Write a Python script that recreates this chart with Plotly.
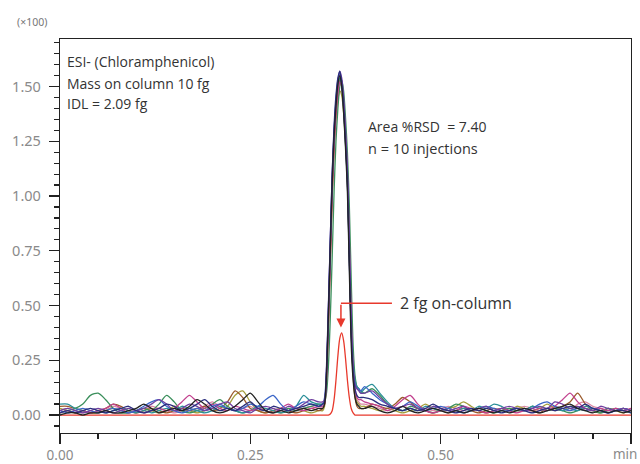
import plotly.graph_objects as go

# ---------------- data (signal in units of x100 counts) ----------------
X_LEFT = [0.00, 0.01, 0.02, 0.03, 0.04, 0.05, 0.06, 0.07, 0.08, 0.09,
          0.10, 0.11, 0.12, 0.13, 0.14, 0.15, 0.16, 0.17, 0.18, 0.19,
          0.20, 0.21, 0.22, 0.23, 0.24, 0.25, 0.26, 0.27, 0.28, 0.29,
          0.30, 0.31, 0.32, 0.33, 0.34]
X_PEAK = [0.345, 0.3475, 0.35, 0.3525, 0.355, 0.3575, 0.36, 0.3625, 0.365, 0.3675,
          0.37, 0.3725, 0.375, 0.3775, 0.38, 0.3825, 0.385, 0.3875, 0.39, 0.3925, 0.395]
X_RIGHT = [0.40, 0.41, 0.42, 0.43, 0.44, 0.45, 0.46, 0.47, 0.48, 0.49,
           0.50, 0.51, 0.52, 0.53, 0.54, 0.55, 0.56, 0.57, 0.58, 0.59,
           0.60, 0.61, 0.62, 0.63, 0.64, 0.65, 0.66, 0.67, 0.68, 0.69,
           0.70, 0.71, 0.72, 0.73, 0.74, 0.75]
TIME_MIN = X_LEFT + X_PEAK + X_RIGHT

green_l = [0.01,0.02,0.03,0.05,0.09,0.10,0.07,0.03,0.01,0.01, 0.02,0.03,0.02,0.05,0.09,0.06,0.02,0.01,0.02,0.03,
           0.05,0.07,0.04,0.02,0.01,0.02,0.03,0.02,0.01,0.02, 0.03,0.02,0.03,0.04,0.05]
green_p = [0.05,0.06,0.10,0.22,0.44,0.72,1.02,1.25,1.40,1.50,1.53,1.48,1.36,1.20,0.96,0.62,0.32,0.18,0.13,0.12,0.11]
green_r = [0.10,0.12,0.09,0.05,0.03,0.02,0.04,0.03,0.02,0.01, 0.02,0.03,0.05,0.04,0.02,0.03,0.02,0.01,0.02,0.03,
           0.02,0.02,0.04,0.03,0.02,0.03,0.02,0.01,0.02,0.03, 0.02,0.01,0.02,0.03,0.02,0.01]

black_l = [0.00,0.01,0.01,0.00,0.01,0.01,0.02,0.01,0.01,0.02, 0.03,0.05,0.03,0.01,0.02,0.03,0.02,0.04,0.07,0.05,
           0.02,0.01,0.02,0.04,0.07,0.10,0.06,0.02,0.01,0.02, 0.01,0.02,0.03,0.02,0.03]
black_p = [0.03,0.05,0.18,0.45,0.75,1.05,1.27,1.41,1.51,1.55,1.50,1.38,1.22,1.02,0.66,0.32,0.16,0.08,0.05,0.04,0.03]
black_r = [0.03,0.04,0.02,0.01,0.02,0.04,0.02,0.01,0.02,0.03, 0.02,0.01,0.02,0.01,0.02,0.03,0.02,0.01,0.02,0.01,
           0.02,0.03,0.02,0.01,0.02,0.03,0.04,0.05,0.03,0.02, 0.01,0.02,0.01,0.02,0.01,0.02]

blue_l = [0.02,0.01,0.02,0.03,0.02,0.01,0.02,0.03,0.02,0.01, 0.02,0.04,0.06,0.07,0.04,0.02,0.01,0.02,0.03,0.02,
          0.04,0.05,0.03,0.02,0.03,0.05,0.04,0.07,0.09,0.05, 0.02,0.04,0.06,0.05,0.04]
blue_p = [0.05,0.08,0.20,0.48,0.78,1.08,1.29,1.44,1.53,1.56,1.51,1.40,1.24,1.06,0.70,0.38,0.20,0.14,0.12,0.12,0.11]
blue_r = [0.13,0.10,0.07,0.05,0.03,0.04,0.06,0.04,0.02,0.03, 0.04,0.03,0.02,0.01,0.02,0.03,0.04,0.03,0.02,0.02,
          0.03,0.02,0.03,0.05,0.06,0.04,0.03,0.02,0.03,0.02, 0.03,0.02,0.01,0.02,0.03,0.02]

magenta_l = [0.01,0.02,0.01,0.02,0.01,0.02,0.03,0.05,0.03,0.01, 0.02,0.01,0.02,0.03,0.02,0.03,0.06,0.09,0.06,0.03,
             0.05,0.03,0.02,0.04,0.03,0.02,0.03,0.02,0.01,0.03, 0.05,0.03,0.02,0.03,0.04]
magenta_p = [0.04,0.05,0.15,0.40,0.70,1.00,1.22,1.37,1.47,1.52,1.50,1.42,1.28,1.10,0.80,0.45,0.22,0.12,0.08,0.07,0.07]
magenta_r = [0.06,0.05,0.04,0.02,0.04,0.07,0.09,0.05,0.02,0.01, 0.02,0.03,0.02,0.04,0.03,0.02,0.01,0.02,0.03,0.02,
             0.01,0.02,0.02,0.03,0.02,0.04,0.07,0.10,0.06,0.03, 0.02,0.03,0.02,0.03,0.02,0.03]

purple_l = [0.02,0.03,0.02,0.01,0.02,0.03,0.02,0.01,0.02,0.03, 0.02,0.03,0.05,0.07,0.05,0.02,0.03,0.05,0.04,0.02,
            0.03,0.05,0.06,0.03,0.02,0.01,0.03,0.04,0.03,0.02, 0.04,0.03,0.05,0.07,0.06]
purple_p = [0.06,0.07,0.22,0.50,0.80,1.10,1.30,1.43,1.52,1.57,1.54,1.45,1.30,1.12,0.78,0.42,0.22,0.14,0.12,0.11,0.10]
purple_r = [0.10,0.11,0.08,0.05,0.03,0.04,0.05,0.03,0.02,0.04, 0.03,0.02,0.03,0.04,0.02,0.03,0.04,0.02,0.03,0.04,
            0.03,0.02,0.03,0.04,0.03,0.06,0.05,0.03,0.04,0.03, 0.02,0.04,0.03,0.02,0.03,0.02]

brown_l = [0.04,0.04,0.03,0.02,0.01,0.02,0.03,0.05,0.04,0.02, 0.01,0.02,0.03,0.02,0.01,0.02,0.03,0.02,0.03,0.04,
           0.02,0.03,0.06,0.11,0.08,0.03,0.02,0.01,0.02,0.03, 0.02,0.01,0.02,0.03,0.02]
brown_p = [0.03,0.05,0.16,0.42,0.72,1.02,1.24,1.39,1.48,1.53,1.51,1.43,1.27,1.08,0.74,0.40,0.18,0.08,0.04,0.03,0.03]
brown_r = [0.03,0.05,0.04,0.03,0.05,0.08,0.06,0.03,0.02,0.01, 0.02,0.01,0.02,0.03,0.02,0.01,0.02,0.03,0.02,0.03,
           0.02,0.03,0.02,0.01,0.03,0.02,0.04,0.06,0.10,0.05, 0.02,0.01,0.03,0.02,0.03,0.02]

olive_l = [0.03,0.02,0.01,0.02,0.01,0.01,0.02,0.03,0.02,0.01, 0.02,0.03,0.02,0.01,0.02,0.04,0.03,0.02,0.01,0.02,
           0.03,0.02,0.04,0.09,0.11,0.06,0.02,0.01,0.02,0.01, 0.02,0.03,0.02,0.01,0.02]
olive_p = [0.02,0.04,0.14,0.38,0.68,0.98,1.20,1.35,1.44,1.48,1.46,1.38,1.24,1.06,0.74,0.40,0.20,0.10,0.06,0.05,0.04]
olive_r = [0.04,0.03,0.02,0.03,0.02,0.01,0.02,0.03,0.05,0.03, 0.02,0.03,0.04,0.06,0.04,0.02,0.01,0.02,0.03,0.02,
           0.04,0.03,0.02,0.03,0.05,0.03,0.02,0.04,0.03,0.02, 0.03,0.02,0.03,0.02,0.01,0.02]

navy_l = [0.01,0.02,0.01,0.02,0.03,0.02,0.01,0.02,0.03,0.04, 0.02,0.01,0.02,0.03,0.05,0.04,0.02,0.03,0.05,0.07,
          0.04,0.02,0.03,0.02,0.04,0.06,0.03,0.02,0.04,0.03, 0.02,0.03,0.04,0.05,0.04]
navy_p = [0.05,0.06,0.20,0.48,0.80,1.10,1.32,1.46,1.54,1.57,1.52,1.41,1.25,1.07,0.72,0.38,0.20,0.12,0.09,0.08,0.08]
navy_r = [0.08,0.07,0.05,0.04,0.03,0.02,0.03,0.02,0.03,0.05, 0.03,0.02,0.01,0.02,0.03,0.02,0.03,0.02,0.01,0.02,
          0.03,0.02,0.01,0.02,0.03,0.02,0.03,0.04,0.03,0.05, 0.03,0.02,0.01,0.02,0.02,0.01]

teal_l = [0.05,0.05,0.03,0.02,0.01,0.02,0.01,0.02,0.03,0.02, 0.01,0.02,0.01,0.02,0.03,0.02,0.04,0.03,0.02,0.01,
          0.02,0.04,0.03,0.02,0.01,0.02,0.04,0.03,0.02,0.01, 0.02,0.04,0.09,0.06,0.05]
teal_p = [0.05,0.06,0.18,0.44,0.76,1.06,1.28,1.42,1.50,1.54,1.51,1.42,1.27,1.09,0.76,0.42,0.24,0.16,0.13,0.12,0.10]
teal_r = [0.12,0.14,0.10,0.06,0.03,0.02,0.03,0.02,0.04,0.03, 0.02,0.03,0.02,0.03,0.02,0.04,0.03,0.05,0.04,0.02,
          0.03,0.02,0.04,0.03,0.02,0.03,0.02,0.03,0.02,0.04, 0.03,0.02,0.03,0.02,0.03,0.02]

pink_l = [0.02,0.03,0.02,0.01,0.02,0.01,0.02,0.04,0.03,0.02, 0.01,0.02,0.04,0.03,0.02,0.01,0.02,0.03,0.02,0.04,
          0.06,0.04,0.03,0.02,0.03,0.04,0.02,0.03,0.02,0.01, 0.03,0.02,0.03,0.04,0.03]
pink_p = [0.04,0.05,0.16,0.42,0.74,1.04,1.26,1.40,1.49,1.53,1.50,1.40,1.26,1.08,0.72,0.38,0.20,0.10,0.07,0.06,0.05]
pink_r = [0.05,0.04,0.03,0.02,0.03,0.04,0.03,0.02,0.03,0.02, 0.03,0.04,0.03,0.02,0.03,0.02,0.01,0.02,0.03,0.02,
          0.03,0.04,0.03,0.02,0.03,0.04,0.03,0.02,0.05,0.06, 0.04,0.03,0.02,0.03,0.02,0.03]

red_l = [0.0] * 35
red_p = [0.0,0.0,0.0,0.0,0.005,0.02,0.07,0.16,0.27,0.35,0.375,0.34,0.26,0.16,0.08,0.03,0.01,0.0,0.0,0.0,0.0]
red_r = [0.0] * 36

INJECTIONS = [
    ("pink", "#dc8aa6", pink_l, pink_p, pink_r),
    ("olive", "#a59f3e", olive_l, olive_p, olive_r),
    ("brown", "#9b5b2d", brown_l, brown_p, brown_r),
    ("green", "#3b8f5c", green_l, green_p, green_r),
    ("teal", "#2b8f98", teal_l, teal_p, teal_r),
    ("magenta", "#c2408e", magenta_l, magenta_p, magenta_r),
    ("blue", "#3b66c8", blue_l, blue_p, blue_r),
    ("purple", "#7040a0", purple_l, purple_p, purple_r),
    ("navy", "#2b2f7e", navy_l, navy_p, navy_r),
    ("black", "#222222", black_l, black_p, black_r),
]

Y_TICKS = [0.0, 0.25, 0.5, 0.75, 1.0, 1.25, 1.5]
Y_TICKTEXT = ["0.00", "0.25", "0.50", "0.75", "1.00", "1.25", "1.50"]
X_TICKS = [0.0, 0.25, 0.5, 0.75]
X_TICKTEXT = ["0.00", "0.25", "0.50", ""]

# ---------------- figure ----------------
fig = go.Figure()
fig.add_trace(go.Scatter(x=TIME_MIN, y=red_l + red_p + red_r, mode="lines",
                         line=dict(color="#e8392c", width=1.3, shape="spline", smoothing=0.8),
                         showlegend=False, hoverinfo="skip"))
for name, col, l, p, r in INJECTIONS:
    fig.add_trace(go.Scatter(x=TIME_MIN, y=l + p + r, mode="lines", name=name,
                             line=dict(color=col, width=1.3, shape="spline", smoothing=0.7),
                             showlegend=False, hoverinfo="skip"))

yfont = dict(family="Noto Sans", size=14.5, color="#8a8a8a")
xfont = dict(family="Noto Sans", size=13.5, color="#8a8a8a")
minor = dict(dtick=0.05, tick0=0, ticks="outside", ticklen=5,
             tickwidth=1.2, tickcolor="#222", showgrid=False)
axis_common = dict(ticks="outside", ticklen=10, tickwidth=1.2, tickcolor="#222",
                   showline=True, linecolor="#222", linewidth=1.2, mirror=True,
                   showgrid=False, zeroline=False, automargin=False, minor=minor)
fig.update_xaxes(range=[0, 0.75], tickvals=X_TICKS, ticktext=X_TICKTEXT,
                 tickfont=xfont, ticklabelstandoff=0, **axis_common)
fig.update_yaxes(range=[-0.082, 1.717], tickvals=Y_TICKS, ticktext=Y_TICKTEXT,
                 tickfont=yfont, ticklabelstandoff=5, **axis_common)

txt = "#333333"
ann = [
    dict(text="(×100)", xref="paper", yref="paper", x=-0.049, y=1.043,
         xanchor="center", yanchor="middle", showarrow=False,
         font=dict(family="Noto Sans", size=10.5, color="#777")),
    dict(text="min", xref="paper", yref="paper", x=1.0, y=0, yshift=-21, xshift=8,
         xanchor="right", yanchor="middle", showarrow=False, font=xfont),
    dict(text="ESI- (Chloramphenicol)", xref="paper", yref="paper", x=0.008, y=0.942,
         xanchor="left", yanchor="middle", showarrow=False,
         font=dict(family="Open Sans", size=14, color=txt)),
    dict(text="Mass on column 10 fg", xref="paper", yref="paper", x=0.008, y=0.888,
         xanchor="left", yanchor="middle", showarrow=False,
         font=dict(family="Open Sans", size=14, color=txt)),
    dict(text="IDL = 2.09 fg", xref="paper", yref="paper", x=0.008, y=0.837,
         xanchor="left", yanchor="middle", showarrow=False,
         font=dict(family="Open Sans", size=14, color=txt)),
    dict(text="Area %RSD  = 7.40", xref="paper", yref="paper", x=0.536, y=0.777,
         xanchor="left", yanchor="middle", showarrow=False,
         font=dict(family="Open Sans", size=14, color=txt)),
    dict(text="n = 10 injections", xref="paper", yref="paper", x=0.536, y=0.723,
         xanchor="left", yanchor="middle", showarrow=False,
         font=dict(family="Open Sans", size=14.5, color=txt)),
    dict(text="2 fg on-column", xref="x", yref="y", x=0.444, y=0.511,
         xanchor="left", yanchor="middle", showarrow=False,
         font=dict(family="Open Sans", size=16, color=txt)),
    dict(text="", x=0.369, y=0.40, xref="x", yref="y", ax=0.369, ay=0.511,
         axref="x", ayref="y", showarrow=True, arrowhead=2, arrowsize=1.2,
         arrowwidth=1.5, arrowcolor="#e8392c"),
]
fig.add_shape(type="line", xref="x", yref="y", x0=0.369, x1=0.436, y0=0.511, y1=0.511,
              line=dict(color="#e8392c", width=1.5))

fig.update_layout(width=640, height=464, margin=dict(l=60, r=9, t=39, b=31, autoexpand=False),
                  paper_bgcolor="white", plot_bgcolor="white", annotations=ann,
                  showlegend=False)

fig.write_html("out.html", config={"displayModeBar": False, "staticPlot": True},
               post_script="document.body.style.margin='0';document.body.style.overflow='hidden';")
